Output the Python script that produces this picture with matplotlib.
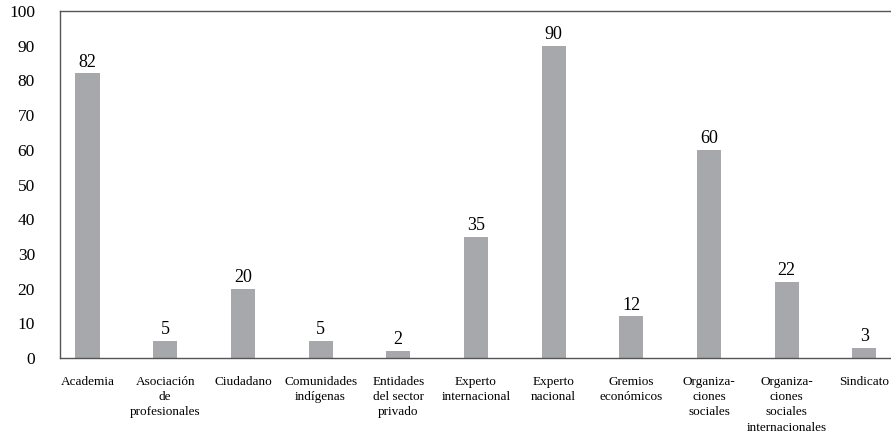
import numpy as np
import matplotlib
matplotlib.use("Agg")
import matplotlib.pyplot as plt

categories = ["Academia", "Asociación\nde\nprofesionales", "Ciudadano",
              "Comunidades\nindígenas", "Entidades\ndel sector\nprivado",
              "Experto\ninternacional", "Experto\nnacional", "Gremios\neconómicos",
              "Organiza-\nciones\nsociales",
              "Organiza-\nciones\nsociales\ninternacionales", "Sindicato"]
values = [82, 5, 20, 5, 2, 35, 90, 12, 60, 22, 3]
yticks = list(range(0, 101, 10))

plt.rcParams['font.family'] = ['Liberation Serif', 'DejaVu Serif']

fig = plt.figure(figsize=(8.91, 4.33), dpi=100)
ax = fig.add_axes([0.0673, 0.1732, 0.935, 0.8014])

x = np.arange(len(categories))
bars = ax.bar(x, values, width=0.31, color="#a7a8ac")
for b, v in zip(bars, values):
    ax.annotate(str(v), (b.get_x() + b.get_width() / 2, v), xytext=(0, 2),
                textcoords="offset points", ha="center", va="bottom", fontsize=13)

ax.set_xlim(-0.355, 10.37)
ax.set_ylim(0, 98.5)
ax.set_yticks(yticks)
ax.set_yticklabels([str(t) for t in yticks], fontsize=12.5)
ax.set_xticks(x)
ax.set_xticklabels(categories, fontsize=9.5, linespacing=1.35)
ax.tick_params(axis='y', length=0, pad=18)
ax.tick_params(axis='x', length=0, pad=13)
for s in ax.spines.values():
    s.set_color("#555555")
    s.set_linewidth(1.0)

fig.savefig("out.png", dpi=100)
